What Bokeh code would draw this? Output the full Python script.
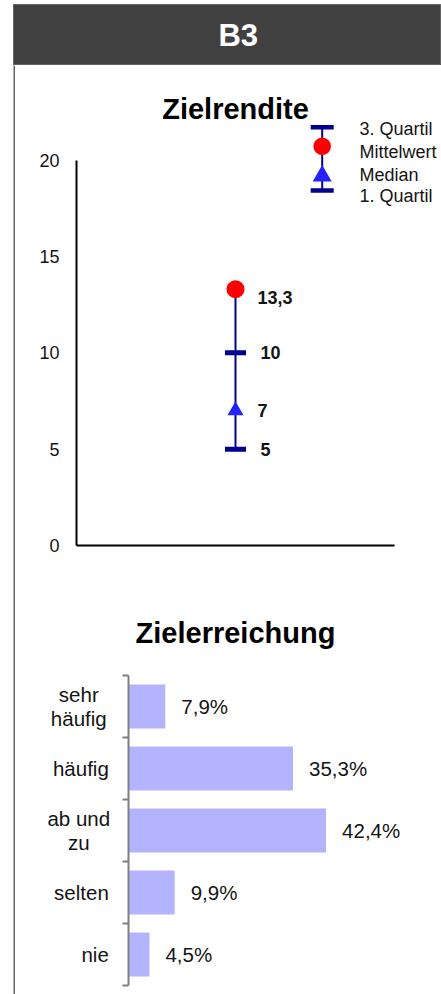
from bokeh.plotting import figure
from bokeh.layouts import column, row
from bokeh.models import Range1d, FixedTicker
from bokeh.core.properties import value
from bokeh.embed import file_html
from bokeh.resources import INLINE

# ---------------- data ----------------
panel_title = "B3"
chart1_title = "Zielrendite"
chart2_title = "Zielerreichung"

q1 = [5]
median = [7]
mean = [13.3]
q3 = [10]
y_ticks1 = [0, 5, 10, 15, 20]
legend_labels = ["3. Quartil", "Mittelwert", "Median", "1. Quartil"]

categories = ["sehr\nhäufig", "häufig", "ab und\nzu", "selten", "nie"]
shares = [7.9, 35.3, 42.4, 9.9, 4.5]

# ---------------- styles ----------------
FONT = "Liberation Sans"
NAVY = "#000090"
BLUE = "#2222ff"
RED = "#ff0000"
BAR = "#b4b4fe"
TXT = "#141414"
AXIS_GRAY = "#7f7f7f"


def de(v, suffix=""):
    return f"{v:g}".replace(".", ",") + suffix


def base_fig(**kw):
    p = figure(output_backend="svg", toolbar_location=None,
               border_fill_color="white", background_fill_color="white",
               outline_line_color=None, **kw)
    p.xgrid.grid_line_color = None
    p.ygrid.grid_line_color = None
    p.frame_align = False
    return p


# ---------------- header ----------------
header = base_fig(width=441, height=65, x_range=Range1d(0, 1), y_range=Range1d(0, 1),
                  min_border_left=13, min_border_right=0, min_border_top=4, min_border_bottom=0,
                  x_axis_location=None, y_axis_location=None)
header.background_fill_color = "#404040"
header.outline_line_color = "#626262"
header.text(x=[0.525], y=[0.5], text=[panel_title], text_color="white",
            text_font=value(FONT), text_font_style="bold", text_font_size="31px",
            text_align="center", text_baseline="middle")

# ---------------- left border strip ----------------
H1, H2 = 515, 414
strip = base_fig(width=15, height=H1 + H2, x_range=Range1d(0, 1), y_range=Range1d(0, 1),
                 min_border_left=13, min_border_right=0, min_border_top=0, min_border_bottom=0,
                 x_axis_location=None, y_axis_location=None)
strip.background_fill_color = "#666666"

# ---------------- chart 1: Zielrendite ----------------
W1 = 426
ML1, MB1 = 61, 35
Y1_PX = 19.275      # pixels per unit
X1_PX = 159.0       # pixels per unit
frame1_w = W1 - ML1
frame1_h = H1 - MB1
p1 = base_fig(width=W1, height=H1,
              x_range=Range1d(0, frame1_w / X1_PX), y_range=Range1d(0, frame1_h / Y1_PX),
              min_border_left=ML1, min_border_right=0, min_border_top=0, min_border_bottom=MB1)

p1.yaxis.ticker = FixedTicker(ticks=y_ticks1)
p1.yaxis.bounds = (min(y_ticks1), max(y_ticks1))
p1.yaxis.axis_line_width = 2
p1.yaxis.axis_line_color = "black"
p1.yaxis.major_tick_line_color = None
p1.yaxis.minor_tick_line_color = None
p1.yaxis.major_tick_out = 0
p1.yaxis.major_tick_in = 0
p1.yaxis.major_label_standoff = 17
p1.yaxis.major_label_text_font = FONT
p1.yaxis.major_label_text_font_size = "18px"
p1.yaxis.major_label_text_color = TXT

p1.xaxis.ticker = FixedTicker(ticks=[])
p1.xaxis.bounds = (0, 2)
p1.xaxis.axis_line_width = 2
p1.xaxis.axis_line_color = "black"
p1.xaxis.major_tick_line_color = None
p1.xaxis.minor_tick_line_color = None

xs = [1]
lo = [min(a, b, c, d) for a, b, c, d in zip(q1, median, mean, q3)]
hi = [max(a, b, c, d) for a, b, c, d in zip(q1, median, mean, q3)]
p1.segment(x0=xs, y0=lo, x1=xs, y1=hi, line_color=NAVY, line_width=2)
for vals in (q1, q3):
    p1.rect(x=xs, y=vals, width=21, height=5, width_units="screen", height_units="screen",
            fill_color=NAVY, line_color=None)
p1.scatter(x=xs, y=median, marker="triangle", size=16, fill_color=BLUE, line_color=None)
p1.scatter(x=xs, y=mean, marker="circle", size=18, fill_color=RED, line_color=None)

lab_kw = dict(text_font=value(FONT), text_font_style="bold", text_font_size="18px",
              text_color=TXT, text_baseline="middle", text_align="left")
p1.text(x=xs, y=mean, text=[de(v) for v in mean], x_offset=22, y_offset=8, **lab_kw)
p1.text(x=xs, y=q3, text=[de(v) for v in q3], x_offset=25, **lab_kw)
p1.text(x=xs, y=median, text=[de(v) for v in median], x_offset=22, **lab_kw)
p1.text(x=xs, y=q1, text=[de(v) for v in q1], x_offset=25, **lab_kw)

# layout helpers (page pixel -> chart-1 data), for title and legend decoration
FRAME1_LEFT, FRAME1_BOTTOM = 76, 65 + frame1_h
def dx1(px):
    return (px - FRAME1_LEFT) / X1_PX
def dy1(py):
    return (FRAME1_BOTTOM - py) / Y1_PX

p1.text(x=[1], y=[dy1(108.3)], text=[chart1_title], text_font=value(FONT),
        text_font_style="bold", text_font_size="29px", text_color="black",
        text_align="center", text_baseline="alphabetic")

# legend
lx = [dx1(321.7)]
p1.segment(x0=lx, y0=[dy1(126.7)], x1=lx, y1=[dy1(190)], line_color=NAVY, line_width=2)
p1.rect(x=lx * 2, y=[dy1(126.7), dy1(190)], width=23, height=4.5,
        width_units="screen", height_units="screen", fill_color=NAVY, line_color=None)
p1.scatter(x=lx, y=[dy1(145.8)], marker="circle", size=17.5, fill_color=RED, line_color=None)
p1.scatter(x=lx, y=[dy1(175.5)], marker="triangle", size=19, fill_color=BLUE, line_color=None)
leg_base = [128.3, 151.3, 174.5, 195.5]
p1.text(x=[dx1(359)] * len(legend_labels), y=[dy1(b) for b in leg_base], text=legend_labels,
        text_font=value(FONT), text_font_size="18px", text_color=TXT,
        text_align="left", text_baseline="alphabetic")

# ---------------- chart 2: Zielerreichung ----------------
WL, W2 = 105, 321          # category-label strip + bar plot
ML2, MB2 = 8, 9
Y2_PX = 62.0
X2_PX = 4.66
frame2_w = W2 - ML2
frame2_h = H2 - MB2
n = len(categories)
y2_range = Range1d(0, frame2_h / Y2_PX)

p2 = base_fig(width=W2, height=H2,
              x_range=Range1d(0, frame2_w / X2_PX), y_range=y2_range,
              min_border_left=ML2, min_border_right=0, min_border_top=0, min_border_bottom=MB2,
              x_axis_location=None)

pos = [n - i - 0.5 for i in range(n)]
p2.hbar(y=pos, left=0, right=shares, height=0.71, fill_color=BAR, line_color=None)
p2.text(x=shares, y=pos, text=[de(v, "%") for v in shares], x_offset=16,
        text_font=value(FONT), text_font_size="20.5px", text_color=TXT,
        text_align="left", text_baseline="middle")

bticks = list(range(n + 1))
p2.yaxis.ticker = FixedTicker(ticks=bticks)
p2.yaxis.bounds = (0, n)
p2.yaxis.major_label_overrides = {t: "" for t in bticks}
p2.yaxis.major_label_standoff = 0
p2.yaxis.axis_line_color = AXIS_GRAY
p2.yaxis.axis_line_width = 2
p2.yaxis.major_tick_line_color = AXIS_GRAY
p2.yaxis.major_tick_line_width = 2
p2.yaxis.major_tick_out = 6
p2.yaxis.major_tick_in = 0
p2.yaxis.minor_tick_line_color = None

p2.text(x=[(235 - 128) / X2_PX], y=[n + (675 - 632) / Y2_PX], text=[chart2_title],
        text_font=value(FONT), text_font_style="bold", text_font_size="29px",
        text_color="black", text_align="center", text_baseline="alphabetic")

# category labels share the bar chart's y scale
lab = base_fig(width=WL, height=H2, x_range=Range1d(0, WL), y_range=y2_range,
               min_border_left=0, min_border_right=0, min_border_top=0, min_border_bottom=MB2,
               x_axis_location=None, y_axis_location=None)
RIGHT_EDGE = WL - 11.7      # right end of the label column
BLOCK_HALF = 30             # half width of a two-line label block
LINE_GAP = 24 / Y2_PX
single = dict(x=[], y=[], text=[])
multi = dict(x=[], y=[], text=[])
for c, yc in zip(categories, pos):
    lines = c.split("\n")
    if len(lines) == 1:
        single["x"].append(RIGHT_EDGE); single["y"].append(yc); single["text"].append(c)
    else:
        k = len(lines)
        for j, ln in enumerate(lines):
            multi["x"].append(RIGHT_EDGE - BLOCK_HALF)
            multi["y"].append(yc + ((k - 1) / 2 - j) * LINE_GAP)
            multi["text"].append(ln)
cat_kw = dict(text_font=value(FONT), text_font_size="20.5px", text_color=TXT,
              text_baseline="middle")
lab.text(x=single["x"], y=single["y"], text=single["text"], text_align="right", **cat_kw)
lab.text(x=multi["x"], y=multi["y"], text=multi["text"], text_align="center", **cat_kw)

# ---------------- layout ----------------
right_col = column(p1, row(lab, p2))
page = column(header, row(strip, right_col))

open("out.html", "w").write(file_html(page, INLINE))
